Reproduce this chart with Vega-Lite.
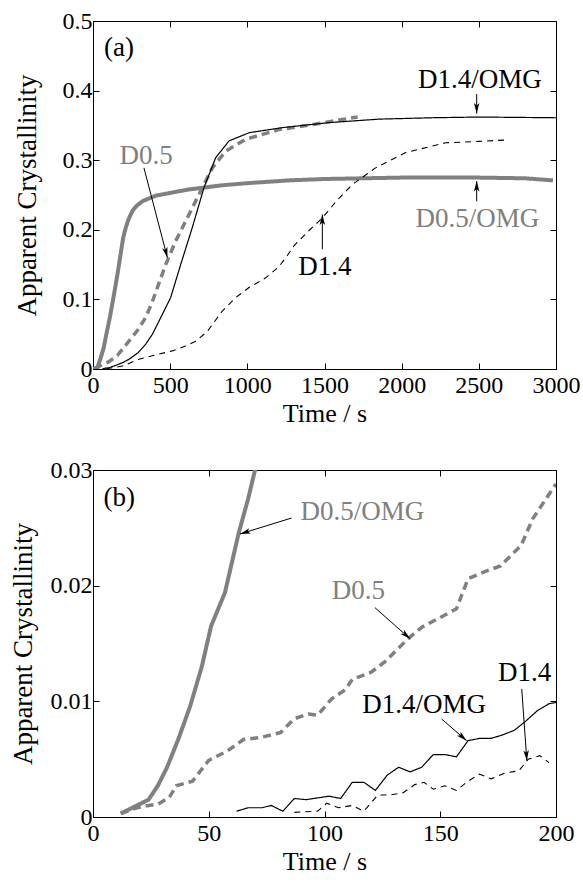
{
  "$schema": "https://vega.github.io/schema/vega-lite/v6.json",
  "background": "white",
  "padding": {"left": 8, "top": 8, "right": 2, "bottom": 5},
  "config": {
    "font": "Liberation Serif, Times New Roman, DejaVu Serif, serif",
    "view": {"stroke": "black", "strokeWidth": 1},
    "axis": {
      "labelFont": "Liberation Serif, Times New Roman, DejaVu Serif, serif",
      "titleFont": "Liberation Serif, Times New Roman, DejaVu Serif, serif",
      "labelFontSize": 24,
      "titleFontSize": 26,
      "titleFontWeight": "normal",
      "labelColor": "black",
      "titleColor": "black",
      "tickColor": "black",
      "domainColor": "black",
      "grid": false,
      "tickSize": -6,
      "tickWidth": 1,
      "format": "~r"
    }
  },
  "datasets": {
    "curvesA": [
      {"series": "D0.5/OMG", "t": 0, "c": 0},
      {"series": "D0.5/OMG", "t": 28, "c": 0.002},
      {"series": "D0.5/OMG", "t": 50, "c": 0.016},
      {"series": "D0.5/OMG", "t": 70, "c": 0.031},
      {"series": "D0.5/OMG", "t": 82, "c": 0.045},
      {"series": "D0.5/OMG", "t": 110, "c": 0.075},
      {"series": "D0.5/OMG", "t": 136, "c": 0.107},
      {"series": "D0.5/OMG", "t": 160, "c": 0.138},
      {"series": "D0.5/OMG", "t": 179, "c": 0.165},
      {"series": "D0.5/OMG", "t": 195, "c": 0.188},
      {"series": "D0.5/OMG", "t": 212, "c": 0.203},
      {"series": "D0.5/OMG", "t": 230, "c": 0.215},
      {"series": "D0.5/OMG", "t": 255, "c": 0.227},
      {"series": "D0.5/OMG", "t": 285, "c": 0.235},
      {"series": "D0.5/OMG", "t": 320, "c": 0.241},
      {"series": "D0.5/OMG", "t": 406, "c": 0.249},
      {"series": "D0.5/OMG", "t": 500, "c": 0.253},
      {"series": "D0.5/OMG", "t": 622, "c": 0.258},
      {"series": "D0.5/OMG", "t": 838, "c": 0.264},
      {"series": "D0.5/OMG", "t": 1000, "c": 0.267},
      {"series": "D0.5/OMG", "t": 1270, "c": 0.271},
      {"series": "D0.5/OMG", "t": 1500, "c": 0.273},
      {"series": "D0.5/OMG", "t": 2000, "c": 0.275},
      {"series": "D0.5/OMG", "t": 2500, "c": 0.275},
      {"series": "D0.5/OMG", "t": 2800, "c": 0.274},
      {"series": "D0.5/OMG", "t": 2980, "c": 0.271},

      {"series": "D0.5", "t": 12, "c": 0.0003},
      {"series": "D0.5", "t": 50, "c": 0.005},
      {"series": "D0.5", "t": 104, "c": 0.0105},
      {"series": "D0.5", "t": 160, "c": 0.02},
      {"series": "D0.5", "t": 233, "c": 0.04},
      {"series": "D0.5", "t": 290, "c": 0.056},
      {"series": "D0.5", "t": 341, "c": 0.074},
      {"series": "D0.5", "t": 380, "c": 0.094},
      {"series": "D0.5", "t": 417, "c": 0.117},
      {"series": "D0.5", "t": 471, "c": 0.15},
      {"series": "D0.5", "t": 536, "c": 0.184},
      {"series": "D0.5", "t": 611, "c": 0.217},
      {"series": "D0.5", "t": 687, "c": 0.251},
      {"series": "D0.5", "t": 773, "c": 0.289},
      {"series": "D0.5", "t": 860, "c": 0.313},
      {"series": "D0.5", "t": 989, "c": 0.33},
      {"series": "D0.5", "t": 1205, "c": 0.344},
      {"series": "D0.5", "t": 1421, "c": 0.351},
      {"series": "D0.5", "t": 1600, "c": 0.358},
      {"series": "D0.5", "t": 1715, "c": 0.362},

      {"series": "D1.4/OMG", "t": 62, "c": 0.0005},
      {"series": "D1.4/OMG", "t": 104, "c": 0.0019},
      {"series": "D1.4/OMG", "t": 150, "c": 0.0054},
      {"series": "D1.4/OMG", "t": 200, "c": 0.0099},
      {"series": "D1.4/OMG", "t": 233, "c": 0.014},
      {"series": "D1.4/OMG", "t": 290, "c": 0.023},
      {"series": "D1.4/OMG", "t": 341, "c": 0.0355},
      {"series": "D1.4/OMG", "t": 385, "c": 0.05},
      {"series": "D1.4/OMG", "t": 428, "c": 0.069},
      {"series": "D1.4/OMG", "t": 503, "c": 0.1025},
      {"series": "D1.4/OMG", "t": 568, "c": 0.15},
      {"series": "D1.4/OMG", "t": 643, "c": 0.203},
      {"series": "D1.4/OMG", "t": 719, "c": 0.2605},
      {"series": "D1.4/OMG", "t": 795, "c": 0.3036},
      {"series": "D1.4/OMG", "t": 881, "c": 0.3276},
      {"series": "D1.4/OMG", "t": 1011, "c": 0.3395},
      {"series": "D1.4/OMG", "t": 1227, "c": 0.3468},
      {"series": "D1.4/OMG", "t": 1529, "c": 0.354},
      {"series": "D1.4/OMG", "t": 1853, "c": 0.359},
      {"series": "D1.4/OMG", "t": 2200, "c": 0.361},
      {"series": "D1.4/OMG", "t": 2501, "c": 0.362},
      {"series": "D1.4/OMG", "t": 3000, "c": 0.361},

      {"series": "D1.4", "t": 87, "c": 0.0004},
      {"series": "D1.4", "t": 150, "c": 0.0026},
      {"series": "D1.4", "t": 200, "c": 0.005},
      {"series": "D1.4", "t": 298, "c": 0.014},
      {"series": "D1.4", "t": 400, "c": 0.02},
      {"series": "D1.4", "t": 514, "c": 0.026},
      {"series": "D1.4", "t": 600, "c": 0.033},
      {"series": "D1.4", "t": 665, "c": 0.04},
      {"series": "D1.4", "t": 741, "c": 0.054},
      {"series": "D1.4", "t": 838, "c": 0.0833},
      {"series": "D1.4", "t": 924, "c": 0.1025},
      {"series": "D1.4", "t": 1011, "c": 0.117},
      {"series": "D1.4", "t": 1119, "c": 0.131},
      {"series": "D1.4", "t": 1205, "c": 0.147},
      {"series": "D1.4", "t": 1259, "c": 0.163},
      {"series": "D1.4", "t": 1302, "c": 0.177},
      {"series": "D1.4", "t": 1400, "c": 0.199},
      {"series": "D1.4", "t": 1486, "c": 0.217},
      {"series": "D1.4", "t": 1580, "c": 0.242},
      {"series": "D1.4", "t": 1680, "c": 0.265},
      {"series": "D1.4", "t": 1831, "c": 0.289},
      {"series": "D1.4", "t": 2026, "c": 0.311},
      {"series": "D1.4", "t": 2285, "c": 0.325},
      {"series": "D1.4", "t": 2500, "c": 0.327},
      {"series": "D1.4", "t": 2674, "c": 0.329}
    ],
    "curvesB": [
      {"series": "D0.5/OMG", "t": 12, "c": 0.0003},
      {"series": "D0.5/OMG", "t": 18, "c": 0.0009},
      {"series": "D0.5/OMG", "t": 24, "c": 0.0015},
      {"series": "D0.5/OMG", "t": 28, "c": 0.0027},
      {"series": "D0.5/OMG", "t": 32, "c": 0.0043},
      {"series": "D0.5/OMG", "t": 37, "c": 0.0068},
      {"series": "D0.5/OMG", "t": 42, "c": 0.0096},
      {"series": "D0.5/OMG", "t": 47, "c": 0.013},
      {"series": "D0.5/OMG", "t": 51, "c": 0.0165},
      {"series": "D0.5/OMG", "t": 57, "c": 0.0194},
      {"series": "D0.5/OMG", "t": 60, "c": 0.022},
      {"series": "D0.5/OMG", "t": 63, "c": 0.0246},
      {"series": "D0.5/OMG", "t": 67, "c": 0.0275},
      {"series": "D0.5/OMG", "t": 70, "c": 0.030},
      {"series": "D0.5/OMG", "t": 73, "c": 0.033},

      {"series": "D0.5", "t": 12, "c": 0.0003},
      {"series": "D0.5", "t": 19, "c": 0.0008},
      {"series": "D0.5", "t": 24, "c": 0.001},
      {"series": "D0.5", "t": 28, "c": 0.0011},
      {"series": "D0.5", "t": 33, "c": 0.0017},
      {"series": "D0.5", "t": 36, "c": 0.0027},
      {"series": "D0.5", "t": 43, "c": 0.0031},
      {"series": "D0.5", "t": 50, "c": 0.0049},
      {"series": "D0.5", "t": 58, "c": 0.0057},
      {"series": "D0.5", "t": 65, "c": 0.0067},
      {"series": "D0.5", "t": 73, "c": 0.0069},
      {"series": "D0.5", "t": 81, "c": 0.0073},
      {"series": "D0.5", "t": 87, "c": 0.0085},
      {"series": "D0.5", "t": 93, "c": 0.0089},
      {"series": "D0.5", "t": 97, "c": 0.0088},
      {"series": "D0.5", "t": 103, "c": 0.0102},
      {"series": "D0.5", "t": 109, "c": 0.011},
      {"series": "D0.5", "t": 112, "c": 0.0119},
      {"series": "D0.5", "t": 120, "c": 0.0125},
      {"series": "D0.5", "t": 126, "c": 0.0134},
      {"series": "D0.5", "t": 136, "c": 0.0154},
      {"series": "D0.5", "t": 142, "c": 0.0164},
      {"series": "D0.5", "t": 157, "c": 0.018},
      {"series": "D0.5", "t": 162, "c": 0.0206},
      {"series": "D0.5", "t": 169, "c": 0.0212},
      {"series": "D0.5", "t": 176, "c": 0.0217},
      {"series": "D0.5", "t": 185, "c": 0.0235},
      {"series": "D0.5", "t": 190, "c": 0.0258},
      {"series": "D0.5", "t": 200, "c": 0.0288},

      {"series": "D1.4/OMG", "t": 62, "c": 0.0005},
      {"series": "D1.4/OMG", "t": 67, "c": 0.0008},
      {"series": "D1.4/OMG", "t": 73, "c": 0.0008},
      {"series": "D1.4/OMG", "t": 77, "c": 0.001},
      {"series": "D1.4/OMG", "t": 82, "c": 0.0005},
      {"series": "D1.4/OMG", "t": 87, "c": 0.0016},
      {"series": "D1.4/OMG", "t": 92, "c": 0.0015},
      {"series": "D1.4/OMG", "t": 102, "c": 0.0018},
      {"series": "D1.4/OMG", "t": 107, "c": 0.0016},
      {"series": "D1.4/OMG", "t": 112, "c": 0.003},
      {"series": "D1.4/OMG", "t": 117, "c": 0.003},
      {"series": "D1.4/OMG", "t": 122, "c": 0.0023},
      {"series": "D1.4/OMG", "t": 127, "c": 0.0036},
      {"series": "D1.4/OMG", "t": 132, "c": 0.0043},
      {"series": "D1.4/OMG", "t": 137, "c": 0.0039},
      {"series": "D1.4/OMG", "t": 142, "c": 0.0043},
      {"series": "D1.4/OMG", "t": 147, "c": 0.0054},
      {"series": "D1.4/OMG", "t": 152, "c": 0.0054},
      {"series": "D1.4/OMG", "t": 157, "c": 0.0052},
      {"series": "D1.4/OMG", "t": 162, "c": 0.0066},
      {"series": "D1.4/OMG", "t": 167, "c": 0.0068},
      {"series": "D1.4/OMG", "t": 172, "c": 0.0068},
      {"series": "D1.4/OMG", "t": 177, "c": 0.0071},
      {"series": "D1.4/OMG", "t": 182, "c": 0.0075},
      {"series": "D1.4/OMG", "t": 187, "c": 0.0083},
      {"series": "D1.4/OMG", "t": 192, "c": 0.0092},
      {"series": "D1.4/OMG", "t": 197, "c": 0.0098},
      {"series": "D1.4/OMG", "t": 200, "c": 0.0099},

      {"series": "D1.4", "t": 87, "c": 0.0004},
      {"series": "D1.4", "t": 97, "c": 0.0005},
      {"series": "D1.4", "t": 101, "c": 0.0012},
      {"series": "D1.4", "t": 106, "c": 0.0008},
      {"series": "D1.4", "t": 112, "c": 0.001},
      {"series": "D1.4", "t": 117, "c": 0.0005},
      {"series": "D1.4", "t": 123, "c": 0.0019},
      {"series": "D1.4", "t": 128, "c": 0.0019},
      {"series": "D1.4", "t": 134, "c": 0.0021},
      {"series": "D1.4", "t": 139, "c": 0.0028},
      {"series": "D1.4", "t": 143, "c": 0.003},
      {"series": "D1.4", "t": 147, "c": 0.0024},
      {"series": "D1.4", "t": 152, "c": 0.0027},
      {"series": "D1.4", "t": 157, "c": 0.0023},
      {"series": "D1.4", "t": 162, "c": 0.0031},
      {"series": "D1.4", "t": 167, "c": 0.0037},
      {"series": "D1.4", "t": 172, "c": 0.0033},
      {"series": "D1.4", "t": 178, "c": 0.0038},
      {"series": "D1.4", "t": 184, "c": 0.004},
      {"series": "D1.4", "t": 188, "c": 0.005},
      {"series": "D1.4", "t": 193, "c": 0.0053},
      {"series": "D1.4", "t": 197, "c": 0.0047}
    ],
    "labelsA": [
      {"label": "D0.5", "t": 345, "c": 0.306},
      {"label": "D1.4/OMG", "t": 2506, "c": 0.415},
      {"label": "D0.5/OMG", "t": 2490, "c": 0.2155},
      {"label": "D1.4", "t": 1502, "c": 0.147}
    ],
    "labelsB": [
      {"label": "D0.5/OMG", "t": 116.4, "c": 0.0264},
      {"label": "D0.5", "t": 114.6, "c": 0.0195},
      {"label": "D1.4/OMG", "t": 143, "c": 0.0097},
      {"label": "D1.4", "t": 186.5, "c": 0.01245}
    ],
    "arrowsA": [
      {"head": "a-D0.5", "t": 330, "c": 0.289, "t2": 482, "c2": 0.16},
      {"head": "down", "t": 2486, "c": 0.395, "t2": 2486, "c2": 0.367},
      {"head": "up", "t": 2486, "c": 0.241, "t2": 2486, "c2": 0.27},
      {"head": "up", "t": 1486, "c": 0.172, "t2": 1486, "c2": 0.222}
    ],
    "arrowsB": [
      {"head": "left", "t": 85.8, "c": 0.02585, "t2": 63.5, "c2": 0.02447},
      {"head": "diag", "t": 121.8, "c": 0.0181, "t2": 137, "c2": 0.0154},
      {"head": "diag", "t": 150.6, "c": 0.00847, "t2": 161.4, "c2": 0.0066},
      {"head": "steep", "t": 185.2, "c": 0.01107, "t2": 187.4, "c2": 0.00487}
    ],
    "panelTags": [
      {"panel": "a", "tag": "(a)", "t": 168, "c": 0.4617},
      {"panel": "b", "tag": "(b)", "t": 11.3, "c": 0.0276}
    ]
  },
  "concat": [
    {
      "width": 463,
      "height": 348,
      "layer": [
        {
          "data": {"name": "curvesA"},
          "mark": {"type": "line", "clip": true, "strokeCap": "butt"},
          "encoding": {
            "x": {"field": "t", "type": "quantitative", "scale": {"domain": [0, 3000], "nice": false},
                  "axis": {"orient": "bottom", "title": "Time / s", "values": [0, 500, 1000, 1500, 2000, 2500, 3000], "labelPadding": 10, "titlePadding": 3, "labelFlush": false, "labelOverlap": false}},
            "y": {"field": "c", "type": "quantitative", "scale": {"domain": [0, 0.5], "nice": false},
                  "axis": {"orient": "left", "title": "Apparent Crystallinity", "titleFontSize": 27, "values": [0, 0.1, 0.2, 0.3, 0.4, 0.5], "labelPadding": 7, "titlePadding": 21, "labelFlush": false, "labelOverlap": false}},
            "color": {"field": "series", "type": "nominal", "legend": null,
                      "scale": {"domain": ["D0.5/OMG", "D0.5", "D1.4/OMG", "D1.4"], "range": ["#808080", "#808080", "#000000", "#000000"]}},
            "strokeDash": {"field": "series", "type": "nominal", "legend": null,
                           "scale": {"type": "ordinal", "domain": ["D0.5/OMG", "D0.5", "D1.4/OMG", "D1.4"], "range": [[1, 0], [8, 5], [1, 0], [6, 5]]}},
            "strokeWidth": {"field": "series", "type": "nominal", "legend": null,
                            "scale": {"type": "ordinal", "domain": ["D0.5/OMG", "D0.5", "D1.4/OMG", "D1.4"], "range": [4, 3.5, 1.2, 1.1]}}
          }
        },
        {
          "data": {"name": "curvesA"},
          "mark": {"type": "point", "opacity": 0},
          "encoding": {
            "x": {"field": "t", "type": "quantitative", "axis": {"orient": "top", "labels": false, "title": null, "domain": false, "values": [0, 500, 1000, 1500, 2000, 2500, 3000]}},
            "y": {"field": "c", "type": "quantitative", "axis": {"orient": "right", "labels": false, "title": null, "domain": false, "values": [0, 0.1, 0.2, 0.3, 0.4, 0.5]}}
          }
        },
        {
          "data": {"name": "arrowsA"},
          "mark": {"type": "rule", "color": "black", "strokeWidth": 1},
          "encoding": {
            "x": {"field": "t", "type": "quantitative", "axis": null},
            "y": {"field": "c", "type": "quantitative", "axis": null},
            "x2": {"field": "t2"},
            "y2": {"field": "c2"}
          }
        },
        {
          "data": {"name": "arrowsA"},
          "transform": [{"filter": "datum.head == 'up'"}],
          "mark": {"type": "point", "shape": "M0,0L-0.55,2.1L0,1.6L0.55,2.1Z", "filled": true, "color": "black", "size": 100, "opacity": 1, "angle": 0},
          "encoding": {"x": {"field": "t2", "type": "quantitative", "axis": null}, "y": {"field": "c2", "type": "quantitative", "axis": null}}
        },
        {
          "data": {"name": "arrowsA"},
          "transform": [{"filter": "datum.head == 'down'"}],
          "mark": {"type": "point", "shape": "M0,0L-0.55,2.1L0,1.6L0.55,2.1Z", "filled": true, "color": "black", "size": 100, "opacity": 1, "angle": 180},
          "encoding": {"x": {"field": "t2", "type": "quantitative", "axis": null}, "y": {"field": "c2", "type": "quantitative", "axis": null}}
        },
        {
          "data": {"name": "arrowsA"},
          "transform": [{"filter": "datum.head == 'a-D0.5'"}],
          "mark": {"type": "point", "shape": "M0,0L-0.55,2.1L0,1.6L0.55,2.1Z", "filled": true, "color": "black", "size": 100, "opacity": 1, "angle": 165.5},
          "encoding": {"x": {"field": "t2", "type": "quantitative", "axis": null}, "y": {"field": "c2", "type": "quantitative", "axis": null}}
        },
        {
          "data": {"name": "labelsA"},
          "mark": {"type": "text", "fontSize": 27, "align": "center", "baseline": "middle"},
          "encoding": {
            "x": {"field": "t", "type": "quantitative", "axis": null},
            "y": {"field": "c", "type": "quantitative", "axis": null},
            "text": {"field": "label"},
            "color": {"field": "label", "type": "nominal", "legend": null}
          }
        },
        {
          "data": {"name": "panelTags"},
          "transform": [{"filter": "datum.panel == 'a'"}],
          "mark": {"type": "text", "fontSize": 27, "align": "center", "baseline": "middle", "color": "black"},
          "encoding": {
            "x": {"field": "t", "type": "quantitative", "axis": null},
            "y": {"field": "c", "type": "quantitative", "axis": null},
            "text": {"field": "tag"}
          }
        }
      ]
    },
    {
      "width": 463,
      "height": 347,
      "layer": [
        {
          "data": {"name": "curvesB"},
          "mark": {"type": "line", "clip": true, "strokeCap": "butt"},
          "encoding": {
            "x": {"field": "t", "type": "quantitative", "scale": {"domain": [0, 200], "nice": false},
                  "axis": {"orient": "bottom", "title": "Time / s", "values": [0, 50, 100, 150, 200], "labelPadding": 10, "titlePadding": 3, "labelFlush": false, "labelOverlap": false}},
            "y": {"field": "c", "type": "quantitative", "scale": {"domain": [0, 0.03], "nice": false},
                  "axis": {"orient": "left", "title": "Apparent Crystallinity", "titleFontSize": 27, "values": [0, 0.01, 0.02, 0.03], "labelPadding": 7, "titlePadding": 13, "labelFlush": false, "labelOverlap": false}},
            "color": {"field": "series", "type": "nominal", "legend": null,
                      "scale": {"domain": ["D0.5/OMG", "D0.5", "D1.4/OMG", "D1.4"], "range": ["#808080", "#808080", "#000000", "#000000"]}},
            "strokeDash": {"field": "series", "type": "nominal", "legend": null,
                           "scale": {"type": "ordinal", "domain": ["D0.5/OMG", "D0.5", "D1.4/OMG", "D1.4"], "range": [[1, 0], [8, 5], [1, 0], [8, 6]]}},
            "strokeWidth": {"field": "series", "type": "nominal", "legend": null,
                            "scale": {"type": "ordinal", "domain": ["D0.5/OMG", "D0.5", "D1.4/OMG", "D1.4"], "range": [4, 3.5, 1.2, 1.1]}}
          }
        },
        {
          "data": {"name": "curvesB"},
          "mark": {"type": "point", "opacity": 0},
          "encoding": {
            "x": {"field": "t", "type": "quantitative", "axis": {"orient": "top", "labels": false, "title": null, "domain": false, "values": [0, 50, 100, 150, 200]}},
            "y": {"field": "c", "type": "quantitative", "axis": {"orient": "right", "labels": false, "title": null, "domain": false, "values": [0, 0.01, 0.02, 0.03]}}
          }
        },
        {
          "data": {"name": "arrowsB"},
          "mark": {"type": "rule", "color": "black", "strokeWidth": 1},
          "encoding": {
            "x": {"field": "t", "type": "quantitative", "axis": null},
            "y": {"field": "c", "type": "quantitative", "axis": null},
            "x2": {"field": "t2"},
            "y2": {"field": "c2"}
          }
        },
        {
          "data": {"name": "arrowsB"},
          "transform": [{"filter": "datum.head == 'left'"}],
          "mark": {"type": "point", "shape": "M0,0L-0.55,2.1L0,1.6L0.55,2.1Z", "filled": true, "color": "black", "size": 100, "opacity": 1, "angle": 252.8},
          "encoding": {"x": {"field": "t2", "type": "quantitative", "axis": null}, "y": {"field": "c2", "type": "quantitative", "axis": null}}
        },
        {
          "data": {"name": "arrowsB"},
          "transform": [{"filter": "datum.head == 'diag'"}],
          "mark": {"type": "point", "shape": "M0,0L-0.55,2.1L0,1.6L0.55,2.1Z", "filled": true, "color": "black", "size": 100, "opacity": 1, "angle": 131.5},
          "encoding": {"x": {"field": "t2", "type": "quantitative", "axis": null}, "y": {"field": "c2", "type": "quantitative", "axis": null}}
        },
        {
          "data": {"name": "arrowsB"},
          "transform": [{"filter": "datum.head == 'steep'"}],
          "mark": {"type": "point", "shape": "M0,0L-0.55,2.1L0,1.6L0.55,2.1Z", "filled": true, "color": "black", "size": 100, "opacity": 1, "angle": 176},
          "encoding": {"x": {"field": "t2", "type": "quantitative", "axis": null}, "y": {"field": "c2", "type": "quantitative", "axis": null}}
        },
        {
          "data": {"name": "labelsB"},
          "mark": {"type": "text", "fontSize": 27, "align": "center", "baseline": "middle"},
          "encoding": {
            "x": {"field": "t", "type": "quantitative", "axis": null},
            "y": {"field": "c", "type": "quantitative", "axis": null},
            "text": {"field": "label"},
            "color": {"field": "label", "type": "nominal", "legend": null}
          }
        },
        {
          "data": {"name": "panelTags"},
          "transform": [{"filter": "datum.panel == 'b'"}],
          "mark": {"type": "text", "fontSize": 27, "align": "center", "baseline": "middle", "color": "black"},
          "encoding": {
            "x": {"field": "t", "type": "quantitative", "axis": null},
            "y": {"field": "c", "type": "quantitative", "axis": null},
            "text": {"field": "tag"}
          }
        }
      ]
    }
  ],
  "columns": 1,
  "align": "all",
  "spacing": 5
}
